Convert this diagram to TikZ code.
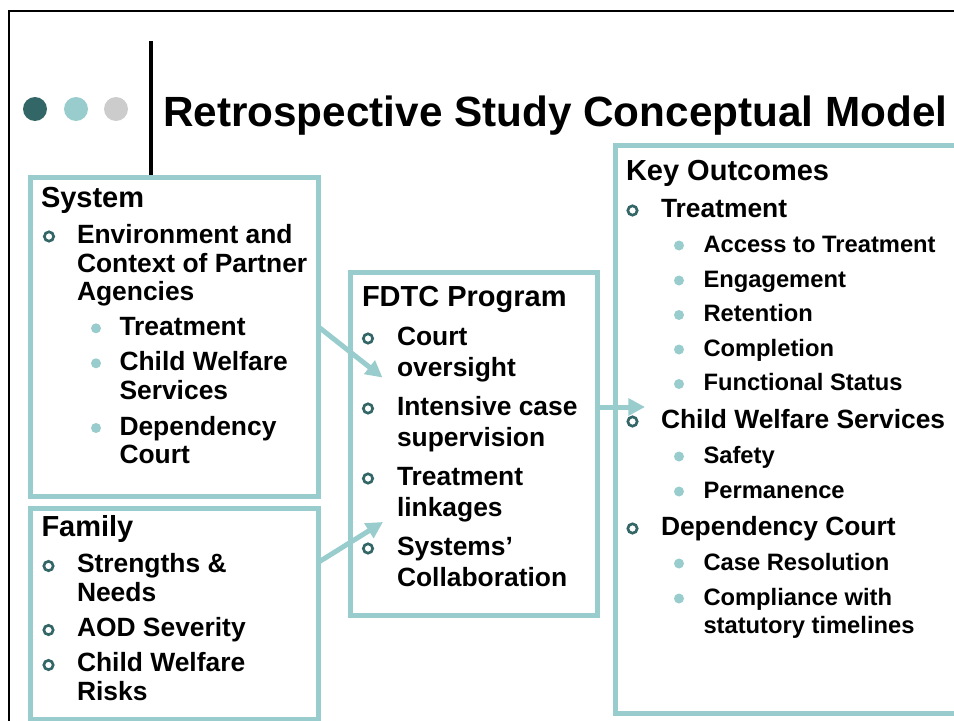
\documentclass[tikz,border=0pt]{standalone}
\usepackage{fontspec}
\setmainfont{Liberation Sans}
\usetikzlibrary{arrows.meta,fit}

\definecolor{tealbox}{HTML}{99CCCC}
\definecolor{tealdark}{HTML}{336666}
\definecolor{dotgrey}{HTML}{CCCCCC}

\begin{document}
\begin{tikzpicture}[x=0.75pt,y=-0.75pt,
  every node/.style={inner sep=0pt,outer sep=0pt},
  titletext/.style={anchor=base west,font=\fontsize{31.7}{38}\selectfont\bfseries},
  head/.style={anchor=base west,font=\fontsize{21.75}{26}\selectfont\bfseries},
  lvlone/.style={anchor=base west,font=\fontsize{19.8}{24}\selectfont\bfseries},
  lvltwo/.style={anchor=base west,font=\fontsize{17.8}{21}\selectfont\bfseries},
  ring/.style={circle,draw=tealdark,line width=2pt,minimum size=7pt,anchor=center},
  dot/.style={circle,fill=tealbox,minimum size=7.5pt,anchor=center},
  frame/.style={draw=tealbox,line width=3.75pt,rectangle,inner sep=0pt,anchor=center},
  link/.style={draw=tealbox,line width=3.75pt,-{Triangle[length=12.5pt,width=12.5pt]}}
]
\useasboundingbox (0,0) rectangle (954,721);
\clip (0,0) rectangle (954,721);

% slide frame, divider and the three header dots
\draw[line width=2pt] (9,830) -- (9,11) -- (1000,11);
\draw[line width=3pt] (151,41) -- (151,175);
\fill[tealdark] (35,109) circle[radius=12];
\fill[tealbox]  (76,109) circle[radius=12];
\fill[dotgrey]  (116,109) circle[radius=12];

\node[titletext] (title) at (163,126) {Retrospective Study Conceptual Model};

% boxes
\node[frame,fit={(30.5,177) (318,496)}] (sys) {};
\node[frame,fit={(30.5,508) (318,719)}] (fam) {};
\node[frame,fit={(350.5,272.5) (597.5,615.5)}] (fdtc) {};
\node[frame,fit={(615.5,145.5) (965,713)}] (key) {};

% connectors
\coordinate (s1) at (318,326.5);
\coordinate (t1) at (382.5,377.5);
\coordinate (s2) at (318,562.5);
\coordinate (t2) at (383,522);
\coordinate (s3) at (597.5,407);
\coordinate (t3) at (645,407);
\draw[link] (s1) -- (t1);
\draw[link] (s2) -- (t2);
\draw[link] (s3) -- (t3);

% System
\node[head] (syshead) at (41,207) {System};
\node[ring] (sysr1) at (49,236.5) {};
\node[lvlone] (sys1a) at (77,243) {Environment and};
\node[lvlone] (sys1b) at (77,272) {Context of Partner};
\node[lvlone] (sys1c) at (77,300) {Agencies};
\node[dot] (sysd1) at (96,328.3) {};
\node[lvlone] (sys2) at (119.5,335) {Treatment};
\node[dot] (sysd2) at (96,363.3) {};
\node[lvlone] (sys3a) at (119.5,370) {Child Welfare};
\node[lvlone] (sys3b) at (119.5,399) {Services};
\node[dot] (sysd3) at (96,428) {};
\node[lvlone] (sys4a) at (119.5,435) {Dependency};
\node[lvlone] (sys4b) at (119.5,463.5) {Court};

% Family
\node[head] (famhead) at (41.5,536) {Family};
\node[ring] (famr1) at (48.5,566) {};
\node[lvlone] (fam1a) at (77,572.5) {Strengths \&};
\node[lvlone] (fam1b) at (77,601) {Needs};
\node[ring] (famr2) at (48.5,630) {};
\node[lvlone] (fam2) at (77,636.5) {AOD Severity};
\node[ring] (famr3) at (48.5,665) {};
\node[lvlone] (fam3a) at (77,671.5) {Child Welfare};
\node[lvlone] (fam3b) at (77,700) {Risks};

% FDTC Program
\node[head] (fdtchead) at (362,306.5) {FDTC Program};
\node[ring] (fdr1) at (368,338.5) {};
\node[lvlone] (fd1a) at (397,345) {Court};
\node[lvlone] (fd1b) at (397,376) {oversight};
\node[ring] (fdr2) at (368,408.5) {};
\node[lvlone] (fd2a) at (397,415) {Intensive case};
\node[lvlone] (fd2b) at (397,446) {supervision};
\node[ring] (fdr3) at (368,478.5) {};
\node[lvlone] (fd3a) at (397,485) {Treatment};
\node[lvlone] (fd3b) at (397,516) {linkages};
\node[ring] (fdr4) at (368,548.5) {};
\node[lvlone] (fd4a) at (397,555) {Systems’};
\node[lvlone] (fd4b) at (397,586) {Collaboration};

% Key Outcomes
\node[head] (keyhead) at (626,180) {Key Outcomes};
\node[ring] (keyr1) at (632.5,210.5) {};
\node[lvlone] (key1) at (661,217) {Treatment};
\node[dot] (keyd1) at (679,245.5) {};
\node[lvltwo] (key1a) at (703.5,252) {Access to Treatment};
\node[dot] (keyd2) at (679,280.5) {};
\node[lvltwo] (key1b) at (703.5,287) {Engagement};
\node[dot] (keyd3) at (679,315) {};
\node[lvltwo] (key1c) at (703.5,321.5) {Retention};
\node[dot] (keyd4) at (679,349.5) {};
\node[lvltwo] (key1d) at (703.5,356) {Completion};
\node[dot] (keyd5) at (679,384) {};
\node[lvltwo] (key1e) at (703.5,390.5) {Functional Status};
\node[ring] (keyr2) at (632.5,421.5) {};
\node[lvlone] (key2) at (661,428) {Child Welfare Services};
\node[dot] (keyd6) at (679,456.5) {};
\node[lvltwo] (key2a) at (703.5,463) {Safety};
\node[dot] (keyd7) at (679,491.5) {};
\node[lvltwo] (key2b) at (703.5,498) {Permanence};
\node[ring] (keyr3) at (632.5,528.5) {};
\node[lvlone] (key3) at (661,535) {Dependency Court};
\node[dot] (keyd8) at (679,563.5) {};
\node[lvltwo] (key3a) at (703.5,570) {Case Resolution};
\node[dot] (keyd9) at (679,598.5) {};
\node[lvltwo] (key3b) at (703.5,605) {Compliance with};
\node[lvltwo] (key3c) at (703.5,633) {statutory timelines};
\end{tikzpicture}
\end{document}
